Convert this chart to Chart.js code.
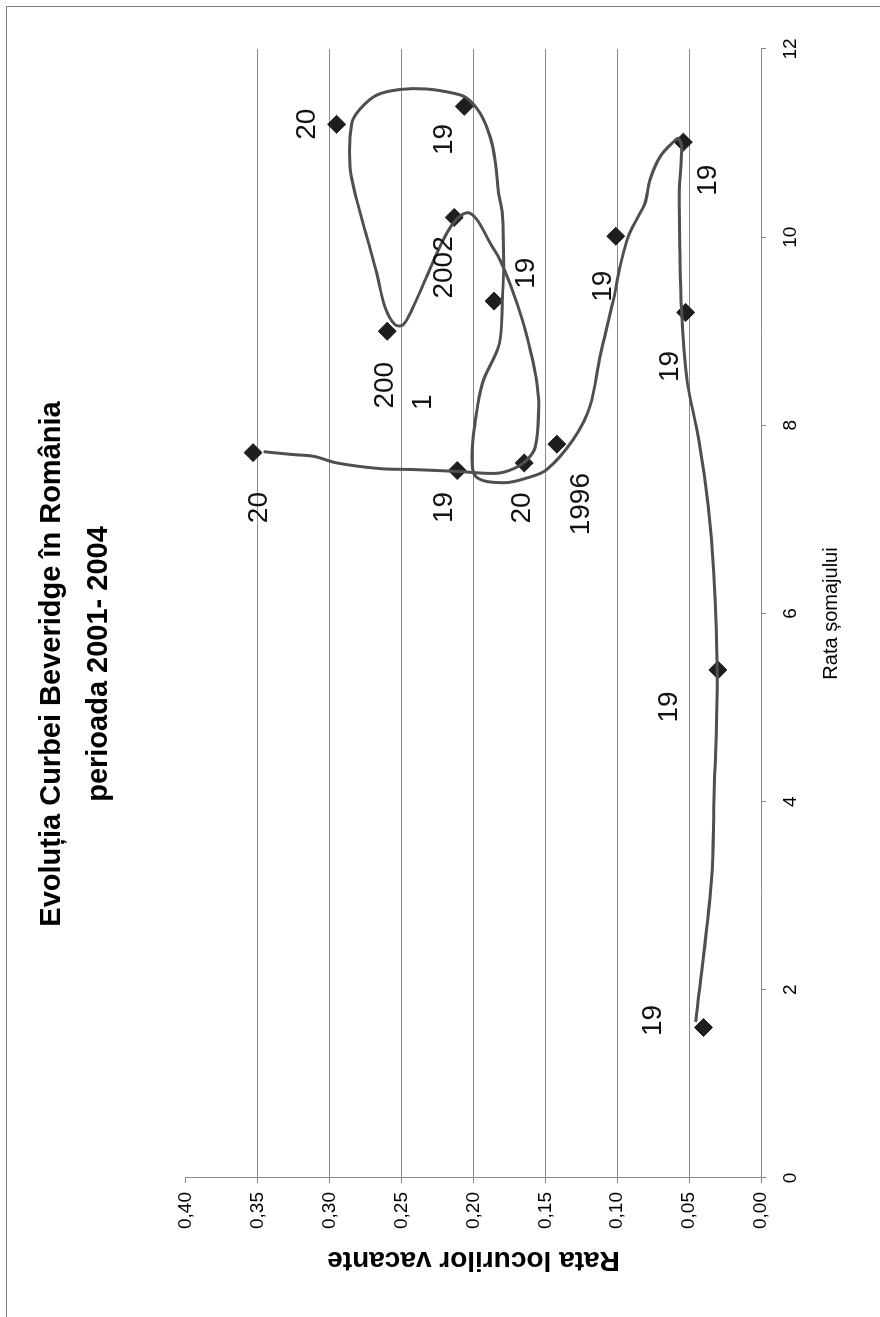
<!DOCTYPE html>
<html>
<head>
<meta charset="utf-8">
<title>Evoluția Curbei Beveridge în România</title>
<script src="https://cdn.jsdelivr.net/npm/chart.js@4.4.1/dist/chart.umd.min.js"></script>
<style>
  html, body { margin: 0; padding: 0; background: #fff; overflow: hidden; width: 880px; height: 1317px; }
  /* the sheet is laid out landscape and turned a quarter turn to fit the portrait page */
  #sheet { position: absolute; left: 0; top: 0; width: 1317px; height: 880px;
           transform-origin: 0 0; transform: translateY(1317px) rotate(-90deg);
           overflow: hidden; background: #fff; }
  #frame { position: absolute; left: 0; top: 6px; width: 1311px; height: 900px; box-sizing: border-box;
           border-top: 1px solid #7f7f7f; border-right: 1px solid #7f7f7f; }
  #c { position: absolute; left: 0; top: 0; }
</style>
</head>
<body>
<div id="sheet">
  <div id="frame"></div>
  <canvas id="c" width="1317" height="880"></canvas>
</div>
<script>
// Annual observations: unemployment rate (%) and job vacancy rate
const UNEMPLOYMENT_RATE = [1.60, 5.40, 9.20, 11.01, 10.01, 7.80, 9.32, 11.39, 11.20, 9.00, 10.21, 7.60, 7.52, 7.71];
const VACANCY_RATE      = [0.040, 0.030, 0.0524, 0.054, 0.101, 0.142, 0.1857, 0.2064, 0.2952, 0.260, 0.2134, 0.1647, 0.2113, 0.3533];
const POINT_LABELS      = ['19', '19', '19', '19', '19', '1996', '19', '19', '20', ['200', '1'], '2002', '20', '19', '20'];

// Smoothed trajectory of the curve
const PATH_UNEMPLOYMENT = [1.66, 3.17, 3.95, 5.40, 6.43, 7.14, 7.85, 8.45, 8.80, 9.19, 9.76, 10.47, 10.96, 11.05, 11.03,
  10.86, 10.61, 10.36, 10.22, 10.01, 9.69, 9.33, 8.73, 8.20, 7.85, 7.53, 7.44, 7.39, 7.45, 7.67, 8.02, 8.45, 8.87, 9.33,
  9.69, 10.26, 10.47, 10.82, 11.07, 11.32, 11.48, 11.53, 11.575, 11.57, 11.51, 11.36, 11.21, 10.75, 10.40, 10.01, 9.62,
  9.26, 9.07, 9.07, 9.26, 9.58, 9.90, 10.15, 10.26, 10.19, 9.94, 9.76, 9.48, 9.12, 8.80, 8.52, 8.20, 7.77, 7.63, 7.54,
  7.49, 7.51, 7.53, 7.54, 7.60, 7.67, 7.69, 7.72];
const PATH_VACANCY = [0.0454, 0.0344, 0.0328, 0.0305, 0.0328, 0.0367, 0.0433, 0.0512, 0.0536, 0.0552, 0.0563, 0.0568,
  0.0552, 0.0575, 0.0598, 0.070, 0.0772, 0.0807, 0.0854, 0.0923, 0.098, 0.1027, 0.112, 0.119, 0.1306, 0.149, 0.163,
  0.179, 0.198, 0.201, 0.199, 0.1937, 0.182, 0.180, 0.179, 0.180, 0.1826, 0.185, 0.1885, 0.1955, 0.2047, 0.214, 0.2326,
  0.2511, 0.2673, 0.279, 0.2847, 0.2859, 0.2813, 0.2743, 0.2673, 0.2616, 0.2546, 0.2488, 0.2419, 0.2326, 0.2233, 0.214,
  0.2047, 0.1978, 0.1885, 0.1816, 0.174, 0.166, 0.1605, 0.1566, 0.1546, 0.157, 0.163, 0.172, 0.184, 0.211, 0.242,
  0.265, 0.295, 0.311, 0.326, 0.346];

const X_TICKS = [0, 2, 4, 6, 8, 10, 12];
const Y_TICKS = [0, 0.05, 0.10, 0.15, 0.20, 0.25, 0.30, 0.35, 0.40];

const TITLE_LINES = ['Evoluția Curbei Beveridge în România', 'perioada 2001- 2004'];
const X_TITLE = 'Rata șomajului';
const Y_TITLE = 'Rata locurilor vacante';

// Placement of each year label relative to its marker (px, one pair per text line)
const LABEL_OFFSETS = [
  [[7, -50]], [[-37, -49]], [[-54, -15]], [[-38, 25]], [[-50, -13]], [[-60, 24]], [[28, 32]],
  [[-33, -20]], [[0, -29]], [[-54, -2], [-71, 36]], [[-50, -10]], [[-45, -2]], [[-37, -13]], [[-55, 6]]
];

const FONT = '"Liberation Sans", Arial, Helvetica, sans-serif';
const GRID = '#8a8a8a';

const yearPoints = UNEMPLOYMENT_RATE.map((u, i) => ({ x: u, y: VACANCY_RATE[i] }));
const pathPoints = PATH_UNEMPLOYMENT.map((u, i) => ({ x: u, y: PATH_VACANCY[i] }));

const yearLabels = {
  id: 'yearLabels',
  afterDatasetsDraw(chart) {
    const meta = chart.getDatasetMeta(1);
    const ctx = chart.ctx;
    ctx.save();
    ctx.font = '28px ' + FONT;
    ctx.fillStyle = '#111';
    ctx.textAlign = 'center';
    ctx.textBaseline = 'middle';
    meta.data.forEach((pt, i) => {
      const lines = [].concat(POINT_LABELS[i]);
      lines.forEach((t, k) => {
        const [dx, dy] = LABEL_OFFSETS[i][k];
        ctx.fillText(t, pt.x + dx, pt.y + dy);
      });
    });
    ctx.restore();
  }
};

new Chart(document.getElementById('c'), {
  type: 'scatter',
  data: {
    datasets: [
      {
        label: 'traiectorie',
        data: pathPoints,
        showLine: true,
        borderColor: '#4f4f4f',
        borderWidth: 3,
        pointRadius: 0,
        tension: 0.35,
        order: 0
      },
      {
        label: 'ani',
        data: yearPoints,
        pointStyle: 'rectRot',
        pointRadius: 9,
        backgroundColor: '#1e1e1e',
        borderColor: '#1e1e1e',
        borderWidth: 1,
        order: 1
      }
    ]
  },
  options: {
    responsive: false,
    devicePixelRatio: 1,
    animation: false,
    layout: { padding: { left: 38, right: 49, top: 0, bottom: 0 } },
    plugins: {
      legend: { display: false },
      tooltip: { enabled: false },
      title: {
        display: true,
        text: TITLE_LINES,
        color: '#000',
        font: { family: FONT, size: 29, weight: 'bold', lineHeight: 1.62 },
        padding: { top: 28.5, bottom: 63.5 }
      }
    },
    scales: {
      x: {
        type: 'linear',
        min: 0, max: 12,
        afterBuildTicks: s => { s.ticks = X_TICKS.map(v => ({ value: v })); },
        afterFit: s => { s.height = 119; },
        ticks: { color: '#000', font: { family: FONT, size: 19 }, padding: 13, maxRotation: 0 },
        grid: { drawOnChartArea: false, color: GRID, tickLength: 5 },
        border: { color: GRID, width: 1 },
        title: { display: true, text: X_TITLE, color: '#000', font: { family: FONT, size: 20 }, padding: { top: 0, bottom: 37 } }
      },
      y: {
        type: 'linear',
        min: 0, max: 0.4,
        afterBuildTicks: s => { s.ticks = Y_TICKS.map(v => ({ value: v })); },
        afterFit: s => { s.width = 101; },
        ticks: {
          color: '#000', font: { family: FONT, size: 19 }, padding: 9,
          callback: v => v.toFixed(2).replace('.', ',')
        },
        grid: {
          color: c => (c.tick && (c.tick.value > 0.399 || c.tick.value < 0.001)) ? 'rgba(0,0,0,0)' : GRID,
          tickColor: GRID,
          tickLength: 5
        },
        border: { color: GRID, width: 1 },
        title: { display: true, text: Y_TITLE, color: '#000', font: { family: FONT, size: 28, weight: 'bold' }, padding: { top: 2, bottom: 0 } }
      }
    }
  },
  plugins: [yearLabels]
});
</script>
</body>
</html>
